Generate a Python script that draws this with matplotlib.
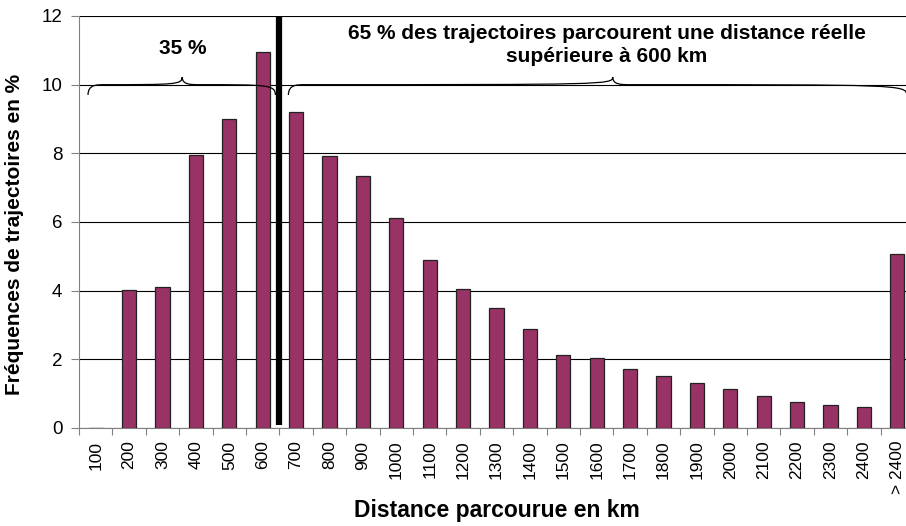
import numpy as np
from matplotlib import pyplot as plt
from matplotlib.path import Path
from matplotlib.patches import PathPatch

plt.rcParams['font.family'] = ['Liberation Sans', 'DejaVu Sans']

CATEGORIES = ['100', '200', '300', '400', '500', '600', '700', '800', '900', '1000',
              '1100', '1200', '1300', '1400', '1500', '1600', '1700', '1800', '1900',
              '2000', '2100', '2200', '2300', '2400', '> 2400']
FREQUENCIES = [0, 4.02, 4.1, 7.95, 9.0, 10.95, 9.2, 7.92, 7.34, 6.12,
               4.89, 4.05, 3.5, 2.88, 2.13, 2.04, 1.72, 1.51, 1.32,
               1.15, 0.93, 0.77, 0.68, 0.61, 5.07]
SHARE_BELOW = '35 %'
SHARE_ABOVE = '65 % des trajectoires parcourent une distance réelle\nsupérieure à 600 km'

BAR_COLOR = '#993366'


def brace(ax, x0, x1, xm, y, h=0.3, curl=0.22):
    """Horizontal curly brace opening downward, tip pointing up at xm."""
    w = 0.25
    verts = [
        (x0, y - h), (x0, y), (x0 + w, y), (x0 + 2 * w, y),
        (xm - w, y), (xm, y), (xm, y + curl),
        (xm, y), (xm + w, y), (xm + 2 * w, y),
        (x1 - w, y), (x1, y), (x1, y - h),
    ]
    codes = [Path.MOVETO] + [Path.CURVE4] * 12
    ax.add_patch(PathPatch(Path(verts, codes), fc='none', ec='black', lw=0.9,
                           clip_on=False, zorder=4))


fig = plt.figure(figsize=(9.06, 5.26), dpi=100)
ax = fig.add_axes([79 / 906, 1 - 428 / 526, 835 / 906, 412 / 526])

x = np.arange(len(CATEGORIES))
ax.bar(x, FREQUENCIES, width=0.42, color=BAR_COLOR, edgecolor='#222222',
       linewidth=0.9, zorder=3)

ax.set_xlim(-0.5, len(CATEGORIES) - 0.5)
ax.set_ylim(0, 12)
ax.set_yticks(range(0, 13, 2))
ax.yaxis.grid(True, color='black', linewidth=0.8, zorder=0)
ax.tick_params(axis='y', labelsize=13.5, length=6, width=0.8, color='#808080', pad=6)

ax.set_xticks(x)
ax.set_xticklabels(CATEGORIES, rotation=90, fontsize=12.5)
ax.set_xticks(np.arange(-0.5, len(CATEGORIES), 1), minor=True)
ax.tick_params(axis='x', which='major', length=0, pad=9)
ax.tick_params(axis='x', which='minor', length=5, width=0.8, color='#808080')

for side in ('top', 'right'):
    ax.spines[side].set_visible(False)
ax.spines['left'].set_color('#808080')
ax.spines['bottom'].set_color('#808080')

ax.set_ylabel('Fréquences de trajectoires en %', fontsize=15, fontweight='bold')
ax.yaxis.set_label_coords(-0.066, 0.47)
ax.set_xlabel('Distance parcourue en km', fontsize=16.5, fontweight='bold',
              va='center')
ax.xaxis.set_label_coords(0.5, -0.2)

# separation at 600 km
ax.plot([5.5, 5.5], [0.1, 12], color='black', lw=4.5, solid_capstyle='butt', zorder=5)

brace(ax, -0.23, 5.38, 2.59, 10.0)
brace(ax, 5.77, 24.28, 15.48, 10.0)

ax.text(2.62, 11.05, SHARE_BELOW, ha='center', va='center', fontsize=15,
        fontweight='bold', zorder=6)
ax.text(15.3, 11.15, SHARE_ABOVE, ha='center', va='center', fontsize=15,
        fontweight='bold', linespacing=1.25, zorder=6)

fig.savefig('out.png', dpi=100)
